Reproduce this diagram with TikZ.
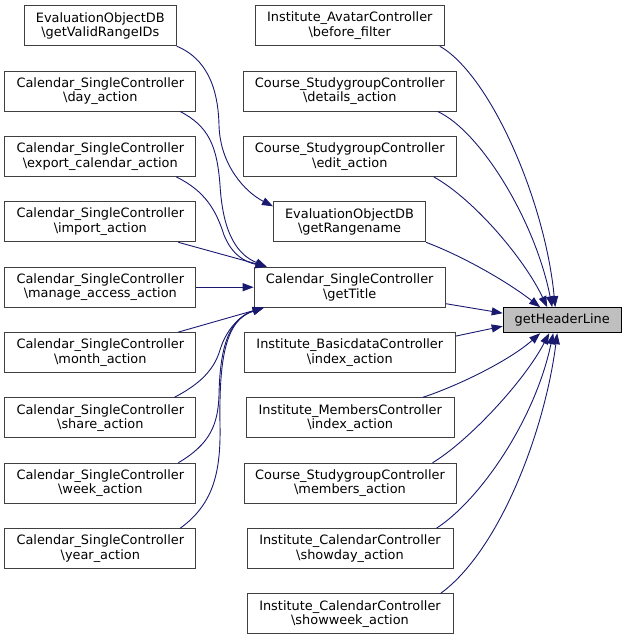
\documentclass[tikz,border=0pt]{standalone}
\usepackage{fontspec}
\setmainfont{DejaVu Sans}
\usetikzlibrary{arrows.meta}
\definecolor{midnight}{HTML}{191970}
\definecolor{boxgray}{HTML}{404040}
\definecolor{hlfill}{HTML}{BFBFBF}
\begin{document}
\begin{tikzpicture}[x=1pt,y=1pt,
  box/.style={draw=boxgray, fill=white, line width=1pt, align=center,
    minimum height=40pt, inner sep=0pt, font=\fontsize{12.9}{14.5}\selectfont},
  hlbox/.style={draw=black, fill=hlfill, line width=1pt, align=center,
    minimum height=25pt, minimum width=118pt, inner sep=0pt, font=\fontsize{12.9}{14.5}\selectfont},
  edge/.style={draw=midnight, line width=0.9pt, -{Triangle[length=11pt,width=8pt,fill=midnight]}}]
\useasboundingbox (0,0) rectangle (627,640);
% left column
\node[box, minimum width=152pt] (vr)  at (100.3,614.3) {EvaluationObjectDB\\\textbackslash getValidRangeIDs};
\node[box, minimum width=191pt] (day) at (100.3,548.9) {Calendar\_SingleController\\\textbackslash day\_action};
\node[box, minimum width=191pt] (exp) at (100.3,483.6) {Calendar\_SingleController\\\textbackslash export\_calendar\_action};
\node[box, minimum width=191pt] (imp) at (100.3,418.2) {Calendar\_SingleController\\\textbackslash import\_action};
\node[box, minimum width=191pt] (man) at (100.3,352.8) {Calendar\_SingleController\\\textbackslash manage\_access\_action};
\node[box, minimum width=191pt] (mon) at (100.3,287.4) {Calendar\_SingleController\\\textbackslash month\_action};
\node[box, minimum width=191pt] (sha) at (100.3,222.1) {Calendar\_SingleController\\\textbackslash share\_action};
\node[box, minimum width=191pt] (wee) at (100.3,156.7) {Calendar\_SingleController\\\textbackslash week\_action};
\node[box, minimum width=191pt] (yea) at (100.3,91.3)  {Calendar\_SingleController\\\textbackslash year\_action};
% middle column
\node[box, minimum width=189pt] (bf)  at (349.8,614.3) {Institute\_AvatarController\\\textbackslash before\_filter};
\node[box, minimum width=213pt] (det) at (349.8,548.9) {Course\_StudygroupController\\\textbackslash details\_action};
\node[box, minimum width=213pt] (edi) at (349.8,483.6) {Course\_StudygroupController\\\textbackslash edit\_action};
\node[box, minimum width=152pt] (rn)  at (349.5,418.2) {EvaluationObjectDB\\\textbackslash getRangename};
\node[box, minimum width=191pt] (tit) at (349.7,352.8) {Calendar\_SingleController\\\textbackslash getTitle};
\node[box, minimum width=211pt] (bas) at (349.8,287.4) {Institute\_BasicdataController\\\textbackslash index\_action};
\node[box, minimum width=208pt] (mem) at (350.2,222.1) {Institute\_MembersController\\\textbackslash index\_action};
\node[box, minimum width=212pt] (mac) at (350.0,156.7) {Course\_StudygroupController\\\textbackslash members\_action};
\node[box, minimum width=206pt] (sd)  at (350.0,91.3)  {Institute\_CalendarController\\\textbackslash showday\_action};
\node[box, minimum width=206pt] (sw)  at (350.0,26.0)  {Institute\_CalendarController\\\textbackslash showweek\_action};
% target
\node[hlbox] (hl) at (562.2,319.8) {getHeaderLine};
% edges into getRangename
\draw[edge] (vr.south east) .. controls (205,582) and (218,555) .. (219,515)
  .. controls (220,475) and (245,448) .. ([yshift=-5pt]rn.north west);
% edges into getTitle
\draw[edge] ([xshift=-16pt]day.south east) .. controls (208,514) and (217,495) .. (220,455)
  .. controls (223,405) and (238,385) .. ([xshift=13pt]tit.north west);
\draw[edge] ([xshift=-20pt]exp.south east) .. controls (205,449) and (216,430) .. (224,405)
  .. controls (232,385) and (245,378) .. ([xshift=13pt]tit.north west);
\draw[edge] ([xshift=-18pt]imp.south east) -- ([xshift=13pt]tit.north west);
\draw[edge] (man.east) -- (tit.west);
\draw[edge] ([xshift=-18pt]mon.north east) -- ([xshift=10pt]tit.south west);
\draw[edge] ([xshift=-22pt]sha.north east) .. controls (200,256) and (214,270) .. (220,290)
  .. controls (226,310) and (240,325) .. ([xshift=10pt]tit.south west);
\draw[edge] ([xshift=-18pt]wee.north east) .. controls (210,196) and (218,215) .. (219,245)
  .. controls (220,300) and (232,322) .. ([xshift=10pt]tit.south west);
\draw[edge] ([xshift=-16pt]yea.north east) .. controls (212,135) and (221,165) .. (220,215)
  .. controls (219,280) and (225,320) .. ([xshift=10pt]tit.south west);
% edges into getHeaderLine
\draw[edge] ([xshift=-5pt]bf.south east) .. controls (490,565) and (545,440) .. ([xshift=-7pt]hl.north);
\draw[edge] ([xshift=-19pt]det.south east) .. controls (480,509) and (535,420) .. ([xshift=-10pt]hl.north);
\draw[edge] ([xshift=-23pt]edi.south east) .. controls (475,440) and (525,380) .. ([xshift=-15pt]hl.north);
\draw[edge] (rn.south east) .. controls (460,385) and (505,360) .. ([xshift=-22pt]hl.north);
\draw[edge] ([yshift=4pt]tit.south east) -- ([yshift=7pt]hl.west);
\draw[edge] ([yshift=-4pt]bas.north east) -- ([yshift=-6pt]hl.west);
\draw[edge] ([xshift=-32pt]mem.north east) .. controls (460,255) and (510,280) .. ([xshift=-22pt]hl.south);
\draw[edge] ([xshift=-24pt]mac.north east) .. controls (470,200) and (525,260) .. ([xshift=-13pt]hl.south);
\draw[edge] ([xshift=-17pt]sd.north east) .. controls (480,140) and (535,220) .. ([xshift=-9pt]hl.south);
\draw[edge] ([xshift=-13pt]sw.north east) .. controls (500,90) and (545,210) .. ([xshift=-5pt]hl.south);
\end{tikzpicture}
\end{document}
